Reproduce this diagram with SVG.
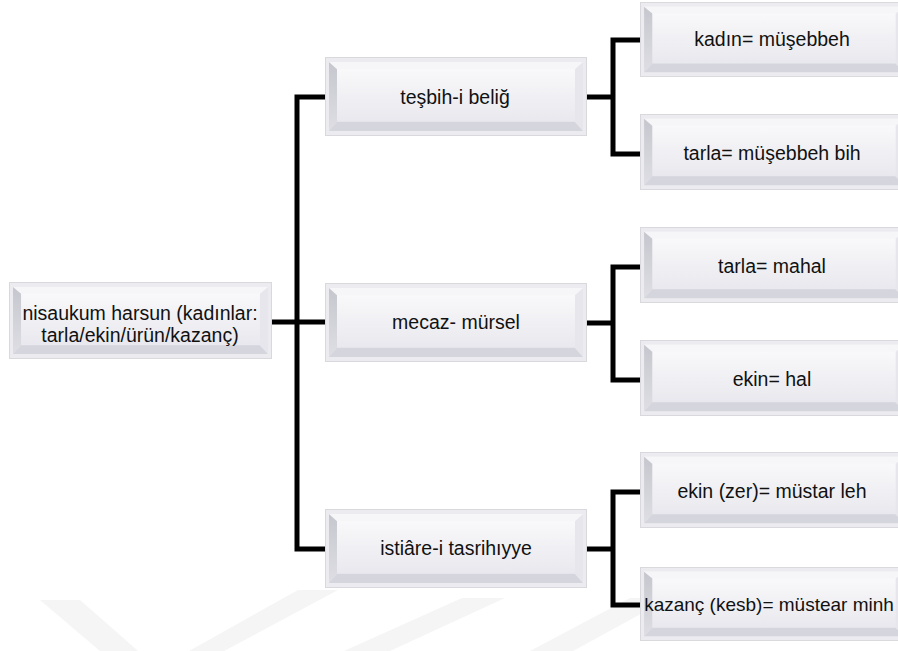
<svg xmlns="http://www.w3.org/2000/svg" width="898" height="651" viewBox="0 0 898 651">
  <style>
    .lbl { font-family: "Liberation Sans", Arial, sans-serif; font-size: 19.5px; fill: #111111; text-anchor: middle; }
    .conn { fill: none; stroke: #000000; stroke-width: 5; stroke-linejoin: miter; stroke-linecap: butt; }
    .wm { fill: #f5f5f5; }
  </style>
  <defs>
    <linearGradient id="face" x1="0" y1="0" x2="0" y2="1">
      <stop offset="0" stop-color="#fbfbfc"/>
      <stop offset="1" stop-color="#e5e5ec"/>
    </linearGradient>
    <linearGradient id="leftBevel" x1="0" y1="0" x2="0" y2="1">
      <stop offset="0" stop-color="#c6c6ce"/>
      <stop offset="1" stop-color="#dedee4"/>
    </linearGradient>
    <symbol id="box" viewBox="0 0 262 78" preserveAspectRatio="none">
      <rect x="0.5" y="0.5" width="261" height="77" fill="#ececf0" stroke="#d8d8dd"/>
      <rect x="4" y="5" width="254" height="68" fill="url(#face)"/>
      <polygon points="4,5 258,5 250,12 12,12" fill="#f6f6f8"/>
      <polygon points="4,5 12,12 12,64 4,73" fill="url(#leftBevel)"/>
      <polygon points="4,73 12,64 250,64 258,73" fill="#d5d5dd"/>
      <polygon points="258,5 258,73 250,64 250,12" fill="#e6e6ec"/>
    </symbol>
  </defs>

  <rect width="898" height="651" fill="#ffffff"/>

  <g id="watermark">
    <polygon class="wm" points="40,600 80,600 138,651 100,651"/>
    <polygon class="wm" points="298,590 338,590 224,651 189,651"/>
    <polygon class="wm" points="462,598 505,598 390,651 344,651"/>
    <polygon class="wm" points="630,598 670,598 573,651 530,651"/>
  </g>

  <g id="connectors">
    <path class="conn" d="M272,322 H325"/>
    <path class="conn" d="M325,97 H297 V549 H325"/>
    <path class="conn" d="M587,97 H613"/>
    <path class="conn" d="M640,40 H613 V154 H640"/>
    <path class="conn" d="M587,323 H613"/>
    <path class="conn" d="M640,267 H613 V380 H640"/>
    <path class="conn" d="M587,549 H613"/>
    <path class="conn" d="M640,492 H613 V605 H640"/>
  </g>

  <g id="root">
    <use href="#box" x="9" y="282" width="263" height="77"/>
    <text class="lbl" x="140" y="320">nisaukum harsun (kadınlar:</text>
    <text class="lbl" x="140" y="342">tarla/ekin/ürün/kazanç)</text>
  </g>

  <g id="tesbih">
    <use href="#box" x="325" y="57" width="262" height="79"/>
    <text class="lbl" x="455" y="104">teşbih-i beliğ</text>
  </g>
  <g id="mecaz">
    <use href="#box" x="325" y="283" width="262" height="79"/>
    <text class="lbl" x="456" y="329">mecaz- mürsel</text>
  </g>
  <g id="istiare">
    <use href="#box" x="325" y="509" width="262" height="79"/>
    <text class="lbl" x="456" y="555">istiâre-i tasrihıyye</text>
  </g>

  <g id="kadin">
    <use href="#box" x="640" y="2" width="268" height="75"/>
    <text class="lbl" x="772" y="46">kadın= müşebbeh</text>
  </g>
  <g id="tarla-musebbeh">
    <use href="#box" x="640" y="114" width="268" height="76"/>
    <text class="lbl" x="772" y="160">tarla= müşebbeh bih</text>
  </g>
  <g id="tarla-mahal">
    <use href="#box" x="640" y="227" width="268" height="76"/>
    <text class="lbl" x="772" y="273">tarla= mahal</text>
  </g>
  <g id="ekin-hal">
    <use href="#box" x="640" y="340" width="268" height="76"/>
    <text class="lbl" x="772" y="386">ekin= hal</text>
  </g>
  <g id="ekin-zer">
    <use href="#box" x="640" y="452" width="268" height="76"/>
    <text class="lbl" x="772" y="498">ekin (zer)= müstar leh</text>
  </g>
  <g id="kazanc">
    <use href="#box" x="640" y="567" width="268" height="74"/>
    <text class="lbl" x="769" y="611" style="font-size:19px">kazanç (kesb)= müstear minh</text>
  </g>
</svg>
